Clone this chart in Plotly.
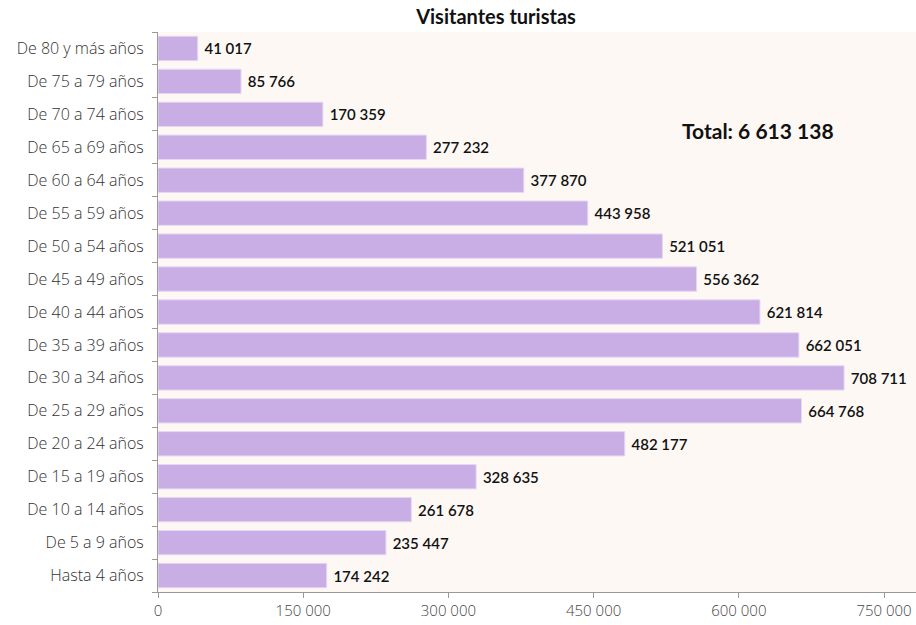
import plotly.graph_objects as go

categories = ["Hasta 4 años", "De 5 a 9 años", "De 10 a 14 años", "De 15 a 19 años",
              "De 20 a 24 años", "De 25 a 29 años", "De 30 a 34 años", "De 35 a 39 años",
              "De 40 a 44 años", "De 45 a 49 años", "De 50 a 54 años", "De 55 a 59 años",
              "De 60 a 64 años", "De 65 a 69 años", "De 70 a 74 años", "De 75 a 79 años",
              "De 80 y más años"]
values = [174242, 235447, 261678, 328635, 482177, 664768, 708711, 662051,
          621814, 556362, 521051, 443958, 377870, 277232, 170359, 85766, 41017]
tick_vals = [0, 150000, 300000, 450000, 600000, 750000]
title_text = "Visitantes turistas"
total_text = "Total: 6 613 138"

def fmt(v):
    return f"{v:,}".replace(",", " ")

font_family = "Lato, Open Sans, sans-serif"
tick_family = "Open Sans, Lato, sans-serif"

fig = go.Figure(go.Bar(
    y=categories, x=values, orientation="h",
    marker=dict(color="#C9ADE5", line=dict(color="#E6D8F3", width=1)),
    text=["\u00a0" + fmt(v) for v in values], textposition="outside",
    textfont=dict(family=font_family, size=15, color="#111", weight=600),
    cliponaxis=False,
))

fig.update_layout(
    width=916, height=625,
    margin=dict(l=158, r=0, t=32, b=33),
    paper_bgcolor="white", plot_bgcolor="#FDF8F4",
    bargap=0.26,
    showlegend=False,
    title=dict(text=title_text, x=496/916, xanchor="center", y=1 - 17/625, yanchor="middle",
               font=dict(family=font_family, size=20, color="#111", weight="bold")),
    xaxis=dict(range=[0, 783000], tickvals=tick_vals, ticktext=[fmt(v) for v in tick_vals],
               showgrid=False, zeroline=False, showline=True, linecolor="#999", linewidth=1,
               ticks="outside", ticklen=5, tickcolor="#999",
               tickfont=dict(family=tick_family, size=15, color="#444", weight=300)),
    yaxis=dict(showgrid=False, showline=True, linecolor="#999", linewidth=1,
               ticks="outside", ticklen=5, tickcolor="#999", tickson="boundaries",
               ticklabelstandoff=10,
               tickfont=dict(family=tick_family, size=16, color="#333", weight=300)),
    annotations=[dict(text=total_text, xref="paper", yref="paper",
                      x=(758 - 158) / 758, y=(592 - 130) / 560, xanchor="center", yanchor="middle",
                      showarrow=False,
                      font=dict(family=font_family, size=21, color="#111", weight="bold"))],
)

fig.write_html("out.html", config={"displayModeBar": False},
               post_script="document.body.style.margin='0';document.body.style.overflow='hidden';")
